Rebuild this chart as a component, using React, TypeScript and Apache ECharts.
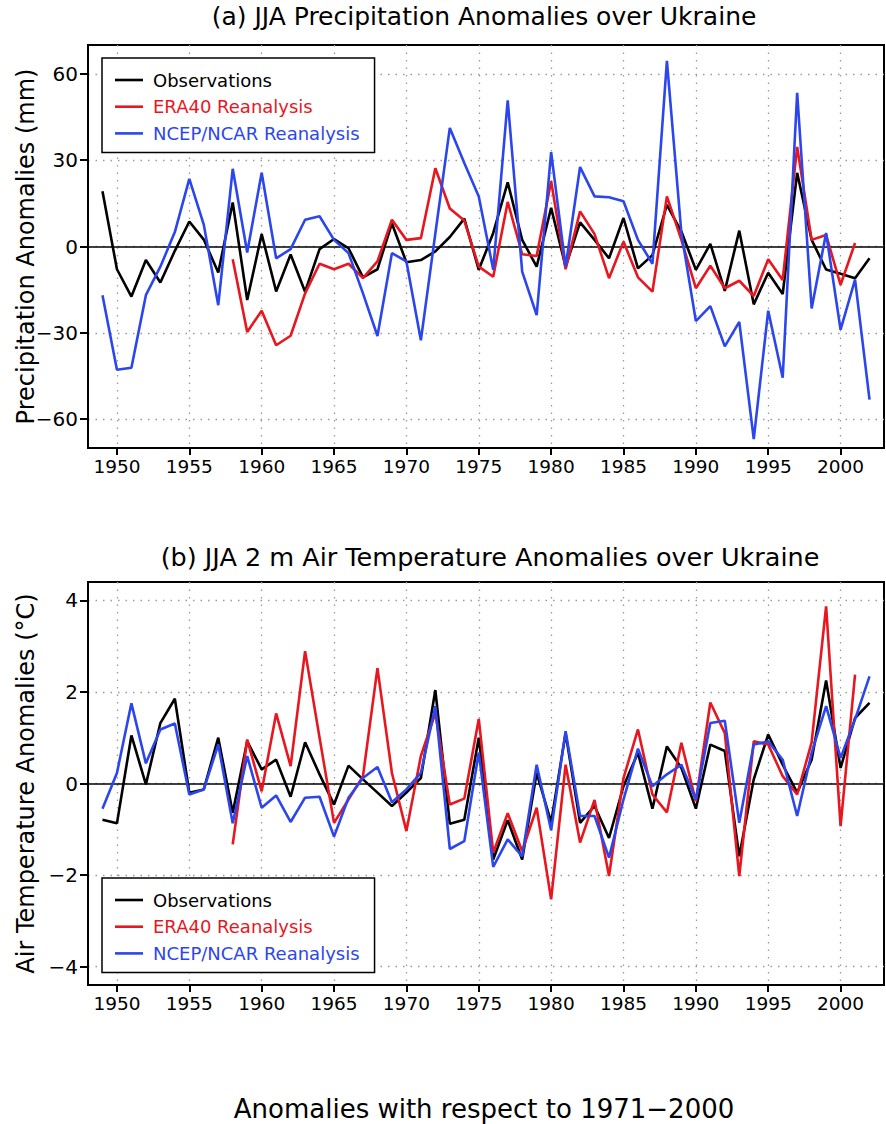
import React, { useEffect, useRef } from "react";
import * as echarts from "echarts";

// ---------- data ----------
const OBS_START = 1949;
const ERA_START = 1958;
const NCEP_START = 1949;

const xTicks = [1950, 1955, 1960, 1965, 1970, 1975, 1980, 1985, 1990, 1995, 2000];
const precipTicks = [-60, -30, 0, 30, 60];
const tempTicks = [-4, -2, 0, 2, 4];

const precipObs = [
  19.2, -7.9, -17.4, -4.7, -12.5, -1.5, 8.7, 2.4, -9.0, 15.3,
  -18.6, 4.3, -15.6, -2.8, -15.7, -0.9, 2.6, -0.6, -10.7, -7.9,
  8.0, -5.5, -4.7, -1.7, 3.3, 9.7, -8.1, 4.7, 22.3, 2.3,
  -7.0, 13.4, -7.0, 8.4, 2.3, -4.1, 9.9, -7.6, -3.0, 14.5,
  5.2, -8.1, 0.9, -15.4, 5.5, -20.1, -9.1, -16.5, 25.6, 2.3,
  -8.0, -9.5, -11.0, -4.1,
];
const precipEra = [
  -4.4, -29.7, -22.3, -34.3, -31.0, -16.3, -6.0, -7.9, -6.0, -11.0,
  -5.2, 9.3, 2.3, 2.9, 27.2, 13.2, 9.0, -7.0, -10.5, 15.5,
  -2.7, -3.3, 22.7, -7.9, 12.2, 4.3, -11.0, 1.7, -10.7, -15.7,
  17.4, 2.3, -14.5, -6.7, -14.5, -11.9, -17.2, -4.4, -11.6, 34.6,
  2.3, 4.0, -13.3, 1.2,
];
const precipNcep = [
  -16.9, -42.8, -42.1, -16.9, -7.0, 5.0, 23.5, 7.6, -20.4, 27.0,
  -2.1, 25.6, -4.1, -0.9, 9.3, 10.5, 2.3, -2.3, -16.3, -31.1,
  -2.3, -5.2, -32.6, 4.5, 41.2, 29.0, 17.4, -8.1, 50.8, -8.7,
  -23.8, 32.8, -7.0, 27.6, 17.4, 17.1, 15.7, 2.3, -6.0, 64.5,
  4.7, -25.9, -20.7, -34.7, -26.2, -66.9, -22.3, -45.6, 53.4, -21.5,
  4.7, -28.9, -11.5, -53.2,
];

const tempObs = [
  -0.79, -0.87, 1.05, -0.02, 1.32, 1.85, -0.2, -0.13, 1.0, -0.64,
  0.92, 0.31, 0.52, -0.29, 0.9, 0.2, -0.46, 0.39, 0.09, -0.2,
  -0.49, -0.2, 0.12, 2.04, -0.88, -0.79, 1.0, -1.66, -0.8, -1.66,
  0.23, -0.85, 1.1, -0.86, -0.49, -1.19, -0.06, 0.67, -0.55, 0.81,
  0.34, -0.55, 0.85, 0.71, -1.59, 0.09, 1.07, 0.41, -0.2, 0.52,
  2.25, 0.34, 1.43, 1.76,
];
const tempEra = [
  -1.33, 0.96, -0.17, 1.53, 0.38, 2.89, 1.0, -0.86, -0.35, 0.16,
  2.52, 0.23, -1.04, 0.6, 1.54, -0.46, -0.33, 1.41, -1.51, -0.65,
  -1.48, -0.53, -2.53, 0.41, -1.29, -0.36, -2.02, 0.12, 1.18, -0.24,
  -0.63, 0.89, -0.39, 1.77, 1.1, -2.02, 0.92, 0.85, 0.16, -0.24,
  0.9, 3.87, -0.93, 2.38,
];
const tempNcep = [
  -0.55, 0.23, 1.75, 0.44, 1.18, 1.31, -0.24, -0.13, 0.85, -0.87,
  0.6, -0.53, -0.26, -0.84, -0.31, -0.29, -1.16, -0.31, 0.12, 0.36,
  -0.41, -0.13, 0.23, 1.69, -1.43, -1.26, 0.68, -1.82, -1.22, -1.59,
  0.41, -1.02, 1.14, -0.71, -0.71, -1.62, -0.35, 0.76, -0.06, 0.2,
  0.41, -0.35, 1.32, 1.37, -0.86, 0.85, 0.92, 0.52, -0.71, 0.67,
  1.69, 0.56, 1.4, 2.34,
];

const seriesNames = ["Observations", "ERA40 Reanalysis", "NCEP/NCAR Reanalysis"];
const seriesColors = ["#000000", "#e8161e", "#2c46ee"];

const titleA = "(a) JJA Precipitation Anomalies over Ukraine";
const titleB = "(b) JJA 2 m Air Temperature Anomalies over Ukraine";
const yNameA = "Precipitation Anomalies (mm)";
const yNameB = "Air Temperature Anomalies (°C)";
const footer = "Anomalies with respect to 1971−2000";

// ---------- helpers ----------
const FONT = "DejaVu Sans";

const toPairs = (start: number, vals: number[]) => vals.map((v, i) => [start + i, v]);

function makeXAxis(gridIndex: number) {
  return {
    type: "value",
    gridIndex,
    min: 1948,
    max: 2003,
    axisLine: { show: true, onZero: false, lineStyle: { color: "#000", width: 2 } },
    axisTick: {
      show: true,
      inside: false,
      length: 7,
      customValues: xTicks,
      lineStyle: { color: "#000", width: 2 },
    },
    axisLabel: {
      customValues: xTicks,
      formatter: (v: number) => String(v),
      fontFamily: FONT,
      fontSize: 18.5,
      color: "#000",
      margin: 9,
    },
    splitLine: {
      show: true,
      lineStyle: { color: "#9a9a9a", type: [1.5, 6], width: 1.3 },
    },
  };
}

function makeYAxis(gridIndex: number, min: number, max: number, ticks: number[], name: string) {
  return {
    type: "value",
    gridIndex,
    min,
    max,
    name,
    nameLocation: "middle",
    nameGap: 50,
    nameMoveOverlap: false,
    nameTextStyle: { fontFamily: FONT, fontSize: 24, color: "#000" },
    axisLine: { show: true, onZero: false, lineStyle: { color: "#000", width: 2 } },
    axisTick: {
      show: true,
      inside: false,
      length: 8,
      customValues: ticks,
      lineStyle: { color: "#000", width: 2 },
    },
    axisLabel: {
      customValues: ticks,
      formatter: (v: number) => (v < 0 ? "−" + Math.abs(v) : String(v)),
      fontFamily: FONT,
      fontSize: 20,
      color: "#000",
      margin: 10,
    },
    splitLine: {
      show: true,
      lineStyle: { color: "#9a9a9a", type: [1.5, 6], width: 1.3 },
    },
  };
}

function makeLegend(top: number) {
  return {
    orient: "vertical",
    left: 102,
    top,
    padding: [12, 15, 9, 13],
    icon: "rect",
    itemWidth: 28,
    itemHeight: 2.6,
    itemGap: 6.7,
    borderColor: "#000",
    borderWidth: 1.5,
    backgroundColor: "#fff",
    selectedMode: false,
    textStyle: { fontFamily: FONT, fontSize: 18, lineHeight: 20, padding: [0, 0, 0, 5] },
    data: seriesNames.map((n, i) => ({ name: n, textStyle: { color: seriesColors[i] } })),
  };
}

function makeLine(idx: number, k: number, data: number[][], withZero: boolean) {
  const s: any = {
    type: "line",
    name: seriesNames[k],
    xAxisIndex: idx,
    yAxisIndex: idx,
    data,
    symbol: "none",
    showSymbol: false,
    lineStyle: { color: seriesColors[k], width: 2.6 },
    itemStyle: { color: seriesColors[k] },
    z: 3 + k,
  };
  if (withZero) {
    s.markLine = {
      silent: true,
      symbol: ["none", "none"],
      label: { show: false },
      lineStyle: { color: "#000", width: 1.6, type: "solid" },
      data: [{ yAxis: 0 }],
      z: 2,
    };
  }
  return s;
}

export default function App() {
  const ref = useRef<HTMLDivElement>(null);

  useEffect(() => {
    document.body.style.margin = "0";
    if (!ref.current) return;
    const chart = echarts.init(ref.current, undefined, { renderer: "svg" });

    const option: any = {
      animation: false,
      backgroundColor: "#fff",
      grid: [
        {
          left: 88, top: 45, width: 796, height: 403,
          show: true, borderColor: "#000", borderWidth: 2,
          outerBoundsMode: "none", containLabel: false,
        },
        {
          left: 88, top: 582, width: 796, height: 403,
          show: true, borderColor: "#000", borderWidth: 2,
          outerBoundsMode: "none", containLabel: false,
        },
      ],
      xAxis: [makeXAxis(0), makeXAxis(1)],
      yAxis: [
        makeYAxis(0, -70, 70, precipTicks, yNameA),
        makeYAxis(1, -4.4, 4.4, tempTicks, yNameB),
      ],
      legend: [makeLegend(58), makeLegend(878)],
      series: [
        makeLine(0, 0, toPairs(OBS_START, precipObs), true),
        makeLine(0, 1, toPairs(ERA_START, precipEra), false),
        makeLine(0, 2, toPairs(NCEP_START, precipNcep), false),
        makeLine(1, 0, toPairs(OBS_START, tempObs), true),
        makeLine(1, 1, toPairs(ERA_START, tempEra), false),
        makeLine(1, 2, toPairs(NCEP_START, tempNcep), false),
      ],
      graphic: [
        {
          type: "text", x: 484, y: 16,
          style: { text: titleA, fill: "#000", font: `25px "${FONT}"`, textAlign: "center", textVerticalAlign: "middle" },
        },
        {
          type: "text", x: 490, y: 557,
          style: { text: titleB, fill: "#000", font: `25.5px "${FONT}"`, textAlign: "center", textVerticalAlign: "middle" },
        },
        {
          type: "text", x: 484, y: 1109,
          style: { text: footer, fill: "#000", font: `26px "${FONT}"`, textAlign: "center", textVerticalAlign: "middle" },
        },
      ],
    };

    chart.setOption(option);
    return () => chart.dispose();
  }, []);

  return (
    <div
      ref={ref}
      style={{ position: "absolute", left: 0, top: 0, width: 886, height: 1124 }}
    />
  );
}
